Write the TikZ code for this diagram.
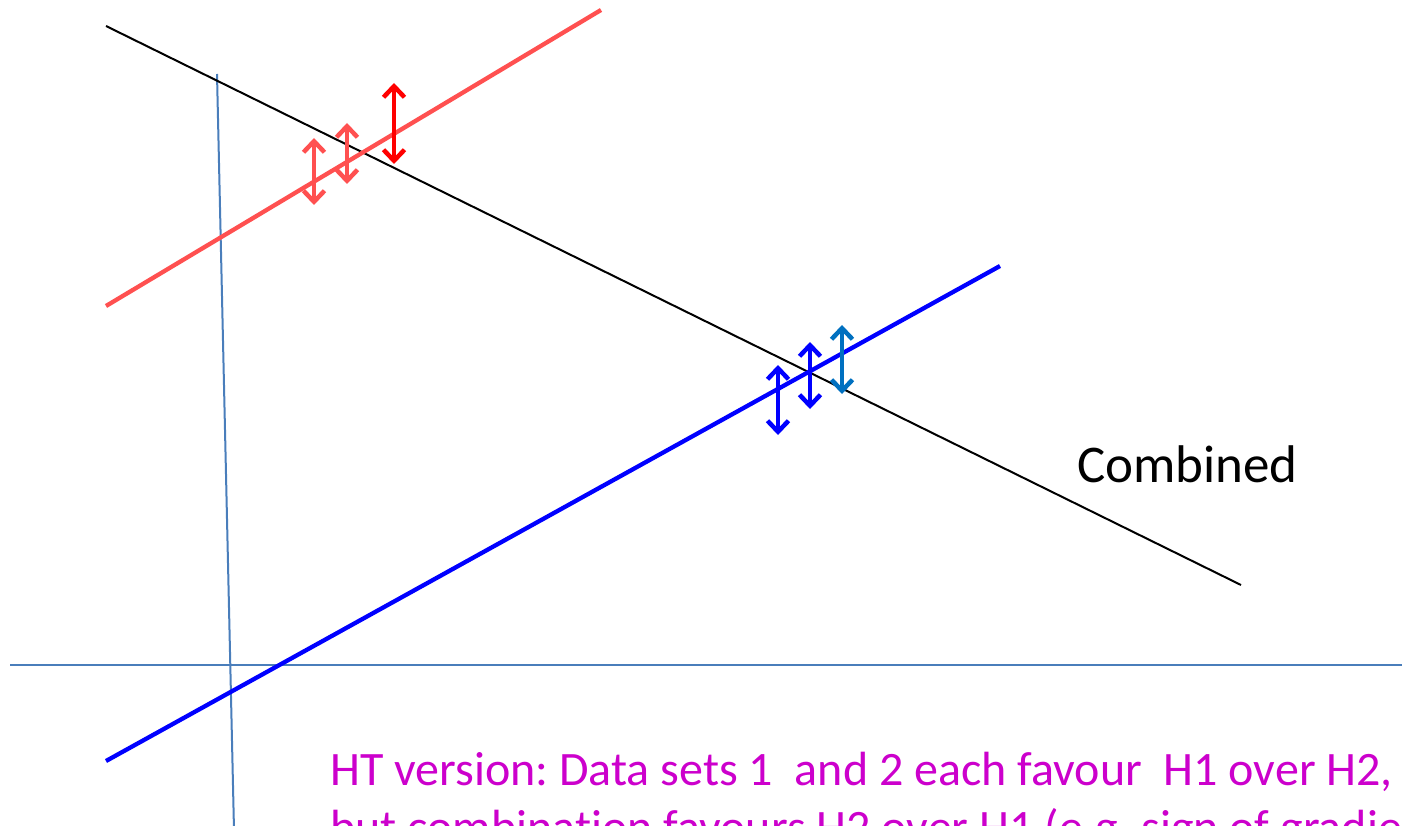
\documentclass[tikz,border=0pt]{standalone}
\usepackage{fontspec}
\setmainfont{Carlito}[Ligatures=NoCommon]
\usetikzlibrary{arrows.meta}
\frenchspacing
\definecolor{lred}{HTML}{FF5050}
\definecolor{bred}{HTML}{FF0000}
\definecolor{bblue}{HTML}{0000FF}
\definecolor{lblue}{HTML}{0070C0}
\definecolor{steel}{HTML}{4A7EBB}
\definecolor{magtext}{HTML}{CC00CC}
\tikzset{
  thinblack/.style={black, line width=2pt},
  fitline/.style={line width=4.3pt},
  axis/.style={steel, line width=2pt},
  errbar/.style={line width=4.5pt, {Straight Barb[length=11pt,width=21pt,line width=4.5pt]}-{Straight Barb[length=11pt,width=21pt,line width=4.5pt]}},
  lbl/.style={inner sep=0pt, anchor=base west, font=\fontsize{53}{60}\selectfont},
  note/.style={inner sep=0pt, anchor=base west, text=magtext, font=\fontsize{48}{56}\selectfont}
}
\begin{document}
\begin{tikzpicture}[x=1pt, y=-1pt]
\useasboundingbox (0,0) rectangle (1402,826);
\clip (0,0) rectangle (1402,826);
% end points
\coordinate (k1) at (106,26);   \coordinate (k2) at (1241,585);
\coordinate (r1) at (106,306);  \coordinate (r2) at (601,10);
\coordinate (b1) at (106,761);  \coordinate (b2) at (1000,266);
\coordinate (v1) at (217,74);   \coordinate (v2) at (234,830);
\coordinate (h1) at (10,665);   \coordinate (h2) at (1402,665);
% axes
\draw[axis] (v1) -- (v2);
\draw[axis] (h1) -- (h2);
% lines
\draw[thinblack] (k1) -- (k2);
\draw[fitline, lred] (r1) -- (r2);
\draw[fitline, bblue] (b1) -- (b2);
% red error bars
\coordinate (ra1) at (314,138); \coordinate (ra2) at (314,205);
\coordinate (rb1) at (347,123); \coordinate (rb2) at (347,184);
\coordinate (rc1) at (394,83);  \coordinate (rc2) at (394,164);
\draw[errbar, lred] (ra1) -- (ra2);
\draw[errbar, lred] (rb1) -- (rb2);
\draw[errbar, bred] (rc1) -- (rc2);
% blue error bars
\coordinate (ba1) at (778,365); \coordinate (ba2) at (778,435);
\coordinate (bb1) at (810,342); \coordinate (bb2) at (810,409);
\coordinate (bc1) at (842,325); \coordinate (bc2) at (842,394);
\draw[errbar, bblue] (ba1) -- (ba2);
\draw[errbar, bblue] (bb1) -- (bb2);
\draw[errbar, lblue] (bc1) -- (bc2);
% labels
\node[lbl] (comb) at (1077,482) {Combined};
\node[note] (n1) at (330,785) {HT version: Data sets 1\ \ and 2 each favour\ \ H1 over H2,};
\node[note] (n2) at (330,843) {but combination favours H2 over H1 (e.g. sign of gradient};
\end{tikzpicture}
\end{document}
